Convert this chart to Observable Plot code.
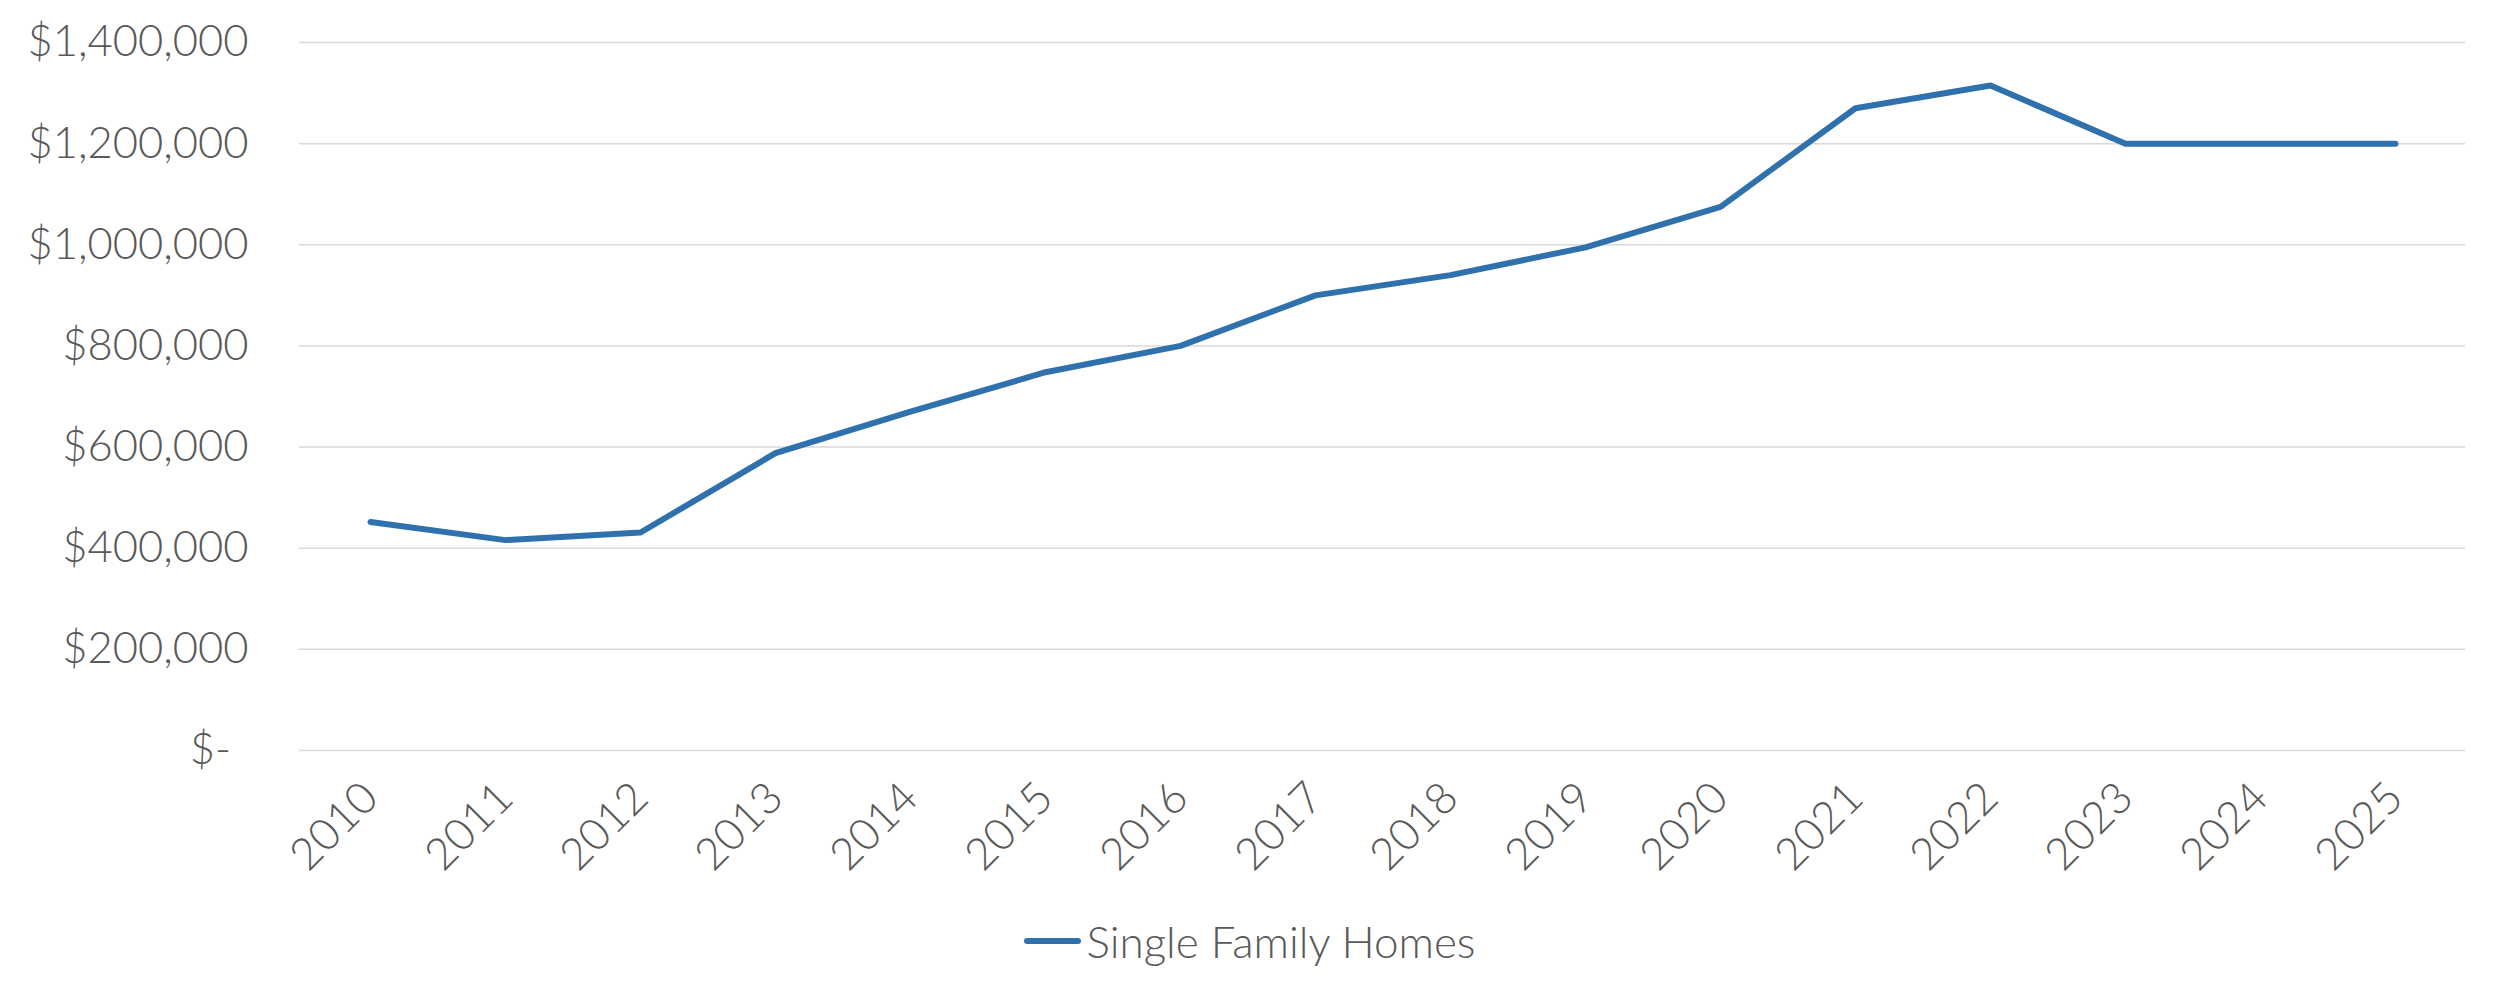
<!DOCTYPE html>
<html>
<head>
<meta charset="utf-8">
<script src="https://cdn.jsdelivr.net/npm/d3@7"></script>
<script src="https://cdn.jsdelivr.net/npm/@observablehq/plot@0.6"></script>
<style>
  html, body { margin: 0; padding: 0; background: #fff; }
  body { width: 2500px; height: 997px; overflow: hidden; font-family: Lato, "Open Sans", sans-serif; }
  #legend { display: flex; justify-content: center; align-items: center; height: 50px; margin-top: 36px; }
  #legend .sw { width: 57px; height: 6px; border-radius: 3px; background: #2f71ad; margin-right: 5px; }
  #legend .lb { font-family: Lato, sans-serif; font-weight: 300; font-size: 44px; color: #595959; }
</style>
</head>
<body>
<div id="chart"></div>
<div id="legend"><div class="sw"></div><div class="lb">Single Family Homes</div></div>
<script>
const years = ["2010","2011","2012","2013","2014","2015","2016","2017","2018","2019","2020","2021","2022","2023","2024","2025"];
const values = [452000, 416000, 431000, 588000, 670000, 748000, 800000, 900000, 940000, 995000, 1075000, 1270000, 1315000, 1200000, 1200000, 1200000];
const yTicks = [0, 200000, 400000, 600000, 800000, 1000000, 1200000, 1400000];
const seriesName = "Single Family Homes";

const data = years.map((y, i) => ({year: y, value: values[i]}));
const fmt = d3.format(",");

const chart = Plot.plot({
  width: 2500,
  height: 880,
  marginLeft: 299,
  marginRight: 35,
  marginTop: 42,
  marginBottom: 130,
  style: {fontFamily: "Lato, sans-serif", fontWeight: 300, background: "#fff"},
  x: {type: "point", domain: years, padding: 0.5, label: null},
  y: {domain: [0, 1400000], label: null},
  marks: [
    Plot.gridY(yTicks, {stroke: "#d9d9d9", strokeOpacity: 1, strokeWidth: 1.5}),
    Plot.axisY(yTicks, {
      tickSize: 0, tickPadding: 51, fontSize: 43.5, fill: "#595959", label: null,
      tickFormat: d => d === 0 ? "$-" : "$" + fmt(d)
    }),
    Plot.axisX({
      tickSize: 0, tickRotate: -45, tickPadding: 40, fontSize: 44, fill: "#595959", label: null
    }),
    Plot.line(data, {x: "year", y: "value", stroke: "#2f71ad", strokeWidth: 6, strokeLinecap: "round", strokeLinejoin: "round"})
  ]
});
// Excel accounting format leaves room after the dash on the zero label
d3.select(chart).selectAll("text")
  .filter(function() { return this.textContent === "$-"; })
  .attr("dx", "-0.4em");
document.getElementById("chart").appendChild(chart);
</script>
</body>
</html>
